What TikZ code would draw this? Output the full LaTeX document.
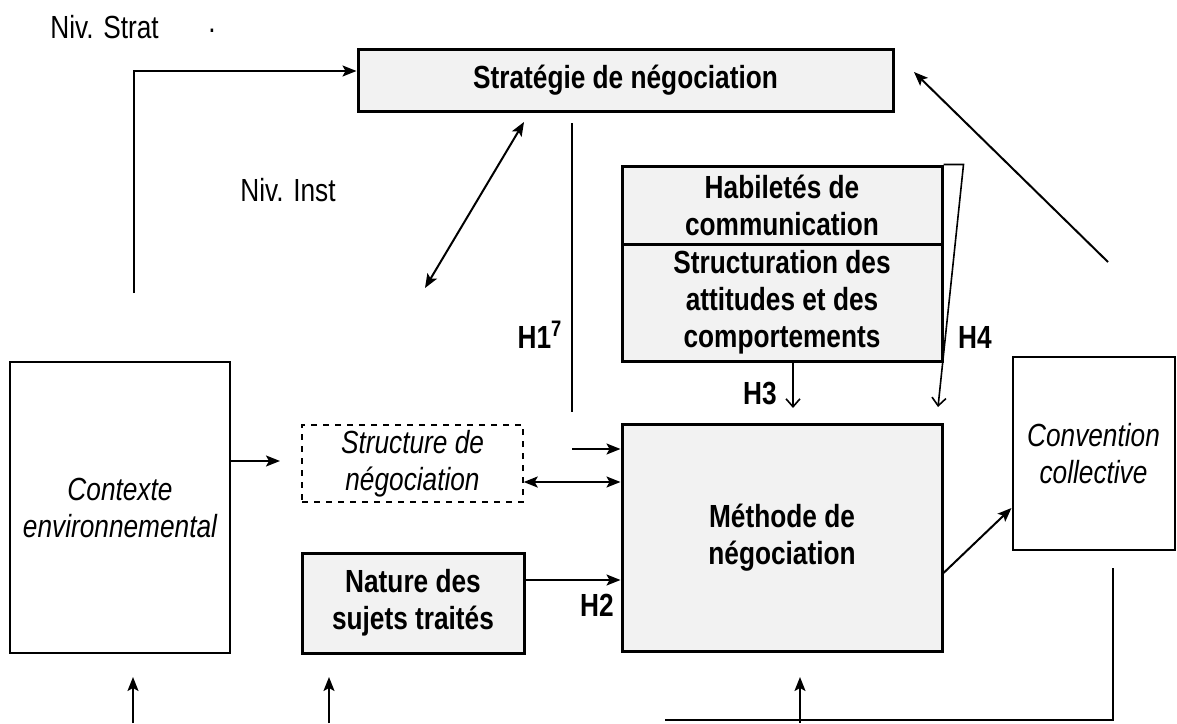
\documentclass[tikz,border=0pt]{standalone}
\usepackage{fontspec}
\setmainfont{Liberation Sans}[FakeStretch=0.82]
\usetikzlibrary{arrows.meta,calc}
\definecolor{boxfill}{gray}{0.95}
\begin{document}
\begin{tikzpicture}[x=0.5pt,y=-0.5pt,
  font=\fontsize{16}{18.5}\selectfont,
  thickbox/.style={draw, line width=1.5pt, fill=boxfill, inner sep=0pt, align=center, font=\fontsize{16}{18.5}\selectfont\bfseries},
  thinbox/.style={draw, line width=1pt, fill=white, inner sep=0pt, align=center, font=\fontsize{16}{18.5}\selectfont\itshape},
  dashbox/.style={draw, dashed, line width=0.7pt, inner sep=0pt, align=center, font=\fontsize{16}{18.5}\selectfont\itshape},
  lbl/.style={inner sep=0pt, font=\fontsize{16}{18.5}\selectfont},
  blbl/.style={inner sep=0pt, font=\fontsize{16}{18.5}\selectfont\bfseries},
  conn/.style={line width=1pt},
  arr/.style={conn, -{Stealth[length=7pt,width=5.5pt,inset=1.5pt]}},
  dblarr/.style={conn, {Stealth[length=7pt,width=5.5pt,inset=1.5pt]}-{Stealth[length=7pt,width=5.5pt,inset=1.5pt]}},
  openarr/.style={line width=0.8pt, -{Straight Barb[length=4pt,width=7pt]}}
]
\useasboundingbox (0,0) rectangle (1177,723);

% boxes
\node[thickbox, minimum width=267.5pt, minimum height=31pt] (strat) at (625.5,80) {Stratégie de négociation};
\node[thickbox, minimum width=160pt, minimum height=39pt] (hab) at (782,205) {Habiletés de\\communication};
\node[thickbox, minimum width=160pt, minimum height=58.5pt] (struct) at (782,302.5) {Structuration des\\attitudes et des\\comportements};
\node[thickbox, minimum width=160pt, minimum height=113.5pt] (meth) at (782,537.5) {Méthode de\\négociation};
\node[thinbox, minimum width=110pt, minimum height=145.5pt] (ctx) at (120,507.5) {Contexte\\environnemental};
\node[dashbox, minimum width=110.5pt, minimum height=38.5pt] (sn) at (412.5,463.5) {Structure de\\négociation};
\node[thickbox, minimum width=111pt, minimum height=50pt] (nat) at (413,603) {Nature des\\sujets traités};
\node[thinbox, minimum width=81pt, minimum height=96.5pt] (conv) at (1093.5,453.5) {Convention\\collective};

% labels
\node[lbl, anchor=west] (nstrat) at (50,27) {Niv. Strat};
\node[lbl] (dot) at (212,31) {.};
\node[lbl] (ninst) at (288,190) {Niv. Inst};
\node[blbl] (h1) at (540,335) {H1\textsuperscript{7}};
\node[blbl] (h2) at (597,605) {H2};
\node[blbl] (h3) at (760,393) {H3};
\node[blbl] (h4) at (975,337) {H4};

% free ends
\coordinate (lstart) at (134,293);
\coordinate (da1) at (425,288);
\coordinate (da2) at (524,122);
\coordinate (h1top) at (572,123);
\coordinate (h1bot) at (572,412);
\coordinate (h3end) at (793,408);
\coordinate (h4end) at (938,407);
\coordinate (ctxend) at (280,461);
\coordinate (h1in) at (572,449);
\coordinate (fbtop) at (1113,568);
\coordinate (fbleft) at (665,720);
\coordinate (cvtail) at (1108,262);
\coordinate (cvtip) at (914,72);
\coordinate (b1) at (133,723);
\coordinate (b1e) at (133,677);
\coordinate (b2) at (329,723);
\coordinate (b2e) at (329,677);
\coordinate (b3) at (800,723);
\coordinate (b3e) at (800,677);

% connectors
\draw[arr] (lstart) |- ($(strat.west)+(0,-9)$);
\draw[dblarr] (da1) -- (da2);
\draw[conn] (h1top) -- (h1bot);
\draw[openarr] (struct.south -| h3end) -- (h3end);
\draw[openarr] (hab.north east) -- ++(20,0) -- (h4end);
\draw[arr] (ctx.east |- ctxend) -- (ctxend);
\draw[arr] (h1in) -- (meth.west |- h1in);
\draw[dblarr] (sn.east |- 0,482) -- (meth.west |- 0,482);
\draw[arr] (nat.east |- 0,580) -- (meth.west |- 0,580);
\draw[arr] (meth.east |- 0,573) -- (conv.west |- 0,508);
\draw[conn] (fbtop) |- (fbleft);
\draw[arr] (cvtail) -- (cvtip);
\draw[arr] (b1) -- (b1e);
\draw[arr] (b2) -- (b2e);
\draw[arr] (b3) -- (b3e);
\end{tikzpicture}
\end{document}
